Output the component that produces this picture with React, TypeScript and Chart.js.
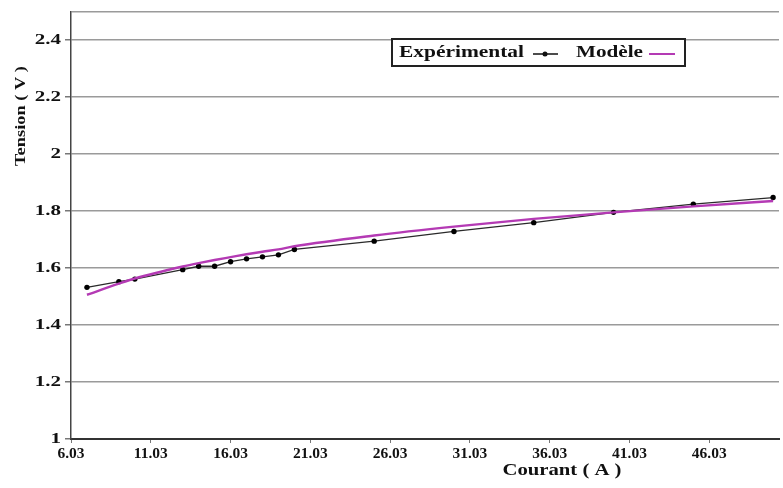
import React, { useEffect, useRef } from "react";
import { Chart, registerables } from "chart.js";

Chart.register(...registerables);

const currentA = [7.03, 9.03, 10.03, 13.03, 14.03, 15.03, 16.03, 17.03, 18.03, 19.03, 20.03, 25.03, 30.03, 35.03, 40.03, 45.03, 50.03];
const experimentalV = [1.532, 1.552, 1.561, 1.594, 1.606, 1.606, 1.622, 1.632, 1.639, 1.646, 1.665, 1.694, 1.728, 1.759, 1.795, 1.824, 1.847];
const modelV = [1.506, 1.545, 1.563, 1.605, 1.617, 1.628, 1.638, 1.648, 1.657, 1.665, 1.676, 1.714, 1.745, 1.772, 1.795, 1.816, 1.835];

const xTickValues = [6.03, 11.03, 16.03, 21.03, 26.03, 31.03, 36.03, 41.03, 46.03];
const xTickLabels = ["6.03", "11.03", "16.03", "21.03", "26.03", "31.03", "36.03", "41.03", "46.03"];
const yTickValues = [1, 1.2, 1.4, 1.6, 1.8, 2, 2.2, 2.4, 2.5];
const yTickLabels = ["1", "1.2", "1.4", "1.6", "1.8", "2", "2.2", "2.4", ""];

const seriesNames = ["Expérimental", "Modèle"];
const xTitle = "Courant ( A )";
const yTitle = "Tension ( V )";

const FONT = '"Liberation Serif", "Times New Roman", serif';
const MAGENTA = "#b43ab4";

function stretchText(ctx: any, text: string, x: number, y: number, sx: number, align: "left" | "right" | "center") {
  const w = ctx.measureText(text).width * sx;
  let left = x;
  if (align === "right") left = x - w;
  else if (align === "center") left = x - w / 2;
  ctx.save();
  ctx.translate(left, y);
  ctx.scale(sx, 1);
  ctx.textAlign = "left";
  ctx.fillText(text, 0, 0);
  ctx.restore();
}

function fitText(ctx: any, text: string, x: number, y: number, width: number, align: "left" | "right" | "center") {
  const w = ctx.measureText(text).width;
  stretchText(ctx, text, x, y, width / w, align);
}

const decor = {
  id: "decor",
  beforeDraw(chart: any) {
    const ctx = chart.ctx;
    ctx.save();
    ctx.fillStyle = "#ffffff";
    ctx.fillRect(0, 0, chart.width, chart.height);
    ctx.restore();
  },
  afterDraw(chart: any) {
    const ctx = chart.ctx;
    const yScale = chart.scales.y;
    ctx.save();
    // y tick labels
    ctx.fillStyle = "#111";
    ctx.textBaseline = "middle";
    ctx.font = `bold 15px ${FONT}`;
    yTickValues.forEach((v, i) => {
      const lbl = yTickLabels[i];
      if (!lbl) return;
      stretchText(ctx, lbl, 61, yScale.getPixelForValue(v), 1.4, "right");
    });
    // legend
    ctx.fillStyle = "#ffffff";
    ctx.fillRect(392, 39, 293, 27);
    ctx.strokeStyle = "#222";
    ctx.lineWidth = 2;
    ctx.strokeRect(392, 39, 293, 27);
    ctx.font = `bold 16px ${FONT}`;
    ctx.fillStyle = "#111";
    fitText(ctx, seriesNames[0], 399, 53, 125, "left");
    ctx.strokeStyle = "#111";
    ctx.lineWidth = 1.5;
    ctx.beginPath();
    ctx.moveTo(533, 54);
    ctx.lineTo(558, 54);
    ctx.stroke();
    ctx.beginPath();
    ctx.arc(545, 54, 2.5, 0, Math.PI * 2);
    ctx.fill();
    fitText(ctx, seriesNames[1], 576, 53, 67, "left");
    ctx.strokeStyle = MAGENTA;
    ctx.lineWidth = 2;
    ctx.beginPath();
    ctx.moveTo(649, 54);
    ctx.lineTo(675, 54);
    ctx.stroke();
    // axis titles
    ctx.fillStyle = "#111";
    ctx.font = `bold 16px ${FONT}`;
    fitText(ctx, xTitle, 562, 471, 119, "center");
    ctx.translate(21, 116);
    ctx.rotate(-Math.PI / 2);
    ctx.font = `bold 15px ${FONT}`;
    fitText(ctx, yTitle, 0, 0, 100, "center");
    ctx.restore();
  },
};

export default function App() {
  const ref = useRef<HTMLCanvasElement | null>(null);
  useEffect(() => {
    if (!ref.current) return;
    const chart = new Chart(ref.current, {
      type: "scatter",
      data: {
        datasets: [
          {
            label: seriesNames[0],
            data: currentA.map((x, i) => ({ x, y: experimentalV[i] })),
            showLine: true,
            borderColor: "#2a2a2a",
            borderWidth: 1.3,
            pointRadius: 2.7,
            pointBackgroundColor: "#000",
            pointBorderColor: "#000",
            pointBorderWidth: 0,
            clip: false,
            order: 2,
          },
          {
            label: seriesNames[1],
            data: currentA.map((x, i) => ({ x, y: modelV[i] })),
            showLine: true,
            borderColor: MAGENTA,
            borderWidth: 2.4,
            pointRadius: 0,
            tension: 0.4,
            cubicInterpolationMode: "monotone",
            clip: false,
            order: 1,
          },
        ],
      },
      options: {
        responsive: false,
        animation: false,
        layout: { padding: { top: 7, right: 0, left: 0, bottom: 0 } },
        plugins: {
          legend: { display: false },
          tooltip: { enabled: false },
        },
        scales: {
          x: {
            type: "linear",
            min: 6.03,
            max: 50.4,
            afterBuildTicks: (s: any) => {
              s.ticks = xTickValues.map((v) => ({ value: v }));
            },
            afterFit: (s: any) => {
              s.height = 49;
            },
            ticks: {
              autoSkip: false,
              maxRotation: 0,
              color: "#111",
              padding: 2,
              font: { family: FONT, size: 15.5, weight: "bold" },
              callback: (v: any) => {
                const i = xTickValues.findIndex((t) => Math.abs(t - v) < 1e-6);
                return i >= 0 ? xTickLabels[i] : "";
              },
            },
            grid: {
              drawOnChartArea: false,
              drawTicks: true,
              tickLength: 4,
              color: "#777",
            },
            border: { color: "#333", width: 2 },
          },
          y: {
            type: "linear",
            min: 1,
            max: 2.5,
            afterBuildTicks: (s: any) => {
              s.ticks = yTickValues.map((v) => ({ value: v }));
            },
            afterFit: (s: any) => {
              s.width = 71;
            },
            ticks: {
              autoSkip: false,
              color: "rgba(0,0,0,0)",
              padding: 3,
              font: { family: FONT, size: 14, weight: "bold" },
              callback: (v: any) => {
                const i = yTickValues.findIndex((t) => Math.abs(t - v) < 1e-6);
                return i >= 0 ? yTickLabels[i] : "";
              },
            },
            grid: {
              color: "#9a9a9a",
              lineWidth: 1.5,
              drawTicks: true,
              tickLength: 6,
              tickColor: (c: any) => (c.tick && c.tick.value === 2.5 ? "rgba(0,0,0,0)" : "#777"),
            },
            border: { color: "#444", width: 1.5 },
          },
        },
      },
      plugins: [decor],
    } as any);
    return () => chart.destroy();
  }, []);
  return (
    <div style={{ position: "fixed", left: 0, top: 0, width: 783, height: 488, background: "#fff" }}>
      <canvas ref={ref} width={783} height={488} style={{ display: "block" }} />
    </div>
  );
}
